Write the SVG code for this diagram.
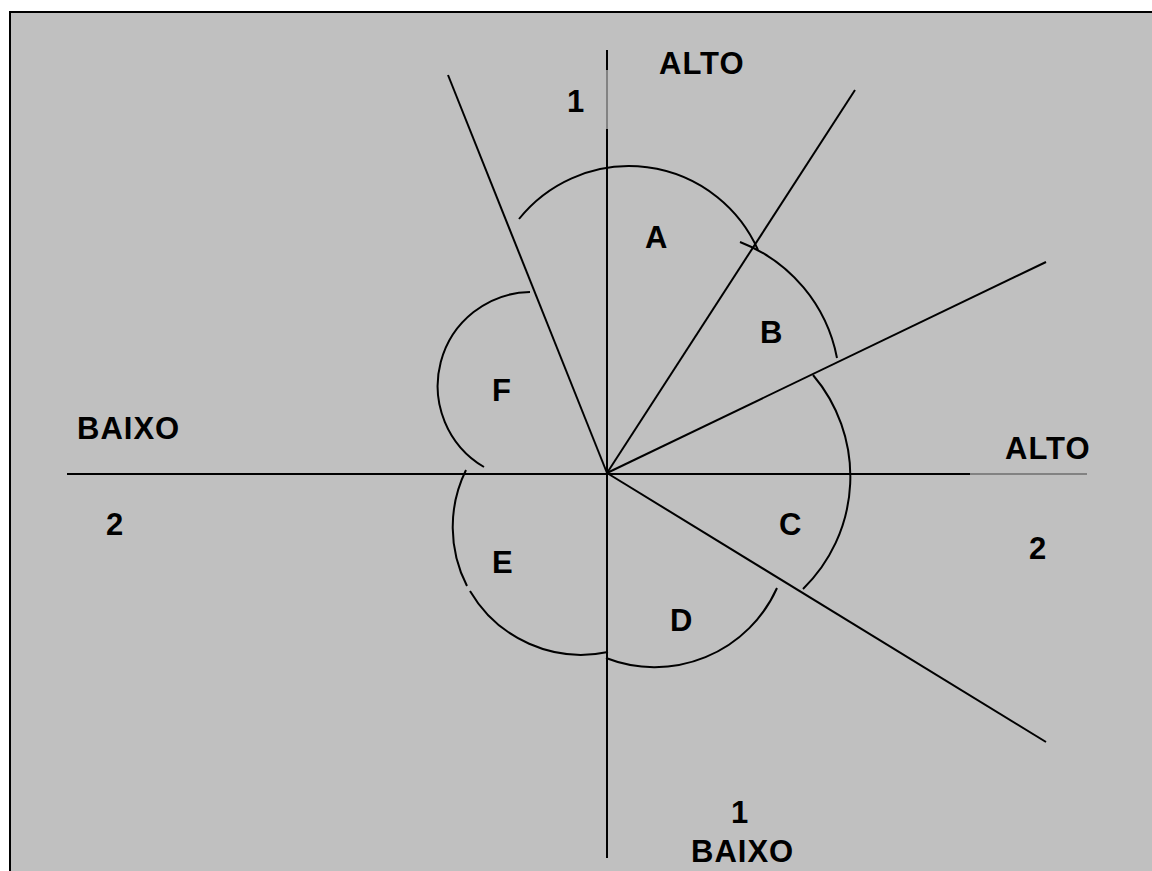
<svg xmlns="http://www.w3.org/2000/svg" width="1152" height="871" viewBox="0 0 1152 871">
  <style>
    .ln { stroke: #000; stroke-width: 2; fill: none; }
    .thin { stroke: #444; stroke-width: 1; fill: none; }
    .arc { stroke: #000; stroke-width: 2; fill: none; }
    .lbl { font-family: "Liberation Sans", Arial, sans-serif; font-weight: bold; font-size: 31px; letter-spacing: 1px; fill: #000; }
  </style>
  <rect x="0" y="0" width="1152" height="871" fill="#fff"/>
  <!-- panel -->
  <rect x="10" y="12" width="1160" height="880" fill="#c0c0c0" stroke="#000" stroke-width="2"/>

  <g id="connectors">
    <!-- vertical axis -->
    <line class="ln" x1="607" y1="50" x2="607" y2="70"/>
    <line class="thin" x1="607" y1="70" x2="607" y2="129"/>
    <line class="ln" x1="607" y1="129" x2="607" y2="858"/>
    <!-- horizontal axis -->
    <line class="ln" x1="67" y1="474" x2="970" y2="474"/>
    <line class="thin" x1="970" y1="474" x2="1087" y2="474"/>
    <!-- rays from the centre -->
    <line class="ln" x1="607" y1="473" x2="448" y2="75"/>
    <line class="ln" x1="607" y1="473" x2="855" y2="90"/>
    <line class="ln" x1="607" y1="473" x2="1046" y2="262"/>
    <line class="ln" x1="607" y1="473" x2="1046" y2="742"/>
  </g>

  <g id="sector-A">
    <path class="arc" d="M519,219 A141,141 0 0 1 758,250"/>
    <text class="lbl" x="645" y="248">A</text>
  </g>
  <g id="sector-B">
    <path class="arc" d="M740,242 A156,156 0 0 1 837,358"/>
    <text class="lbl" x="760" y="343">B</text>
  </g>
  <g id="sector-C">
    <path class="arc" d="M813,375 A157,157 0 0 1 803,589"/>
    <text class="lbl" x="779" y="535">C</text>
  </g>
  <g id="sector-D">
    <path class="arc" d="M777,588 A134,134 0 0 1 606,658"/>
    <text class="lbl" x="670" y="631">D</text>
  </g>
  <g id="sector-E">
    <path class="arc" d="M466,470 A129,129 0 0 0 467,586"/>
    <path class="arc" d="M470,591 A129,129 0 0 0 608,652"/>
    <text class="lbl" x="492" y="573">E</text>
  </g>
  <g id="sector-F">
    <path class="arc" d="M530,292 A94,94 0 0 0 484,467"/>
    <text class="lbl" x="492" y="401">F</text>
  </g>

  <g id="axis-labels">
    <text class="lbl" x="659" y="74">ALTO</text>
    <text class="lbl" x="567" y="112">1</text>
    <text class="lbl" x="77" y="439">BAIXO</text>
    <text class="lbl" x="106" y="535">2</text>
    <text class="lbl" x="1005" y="459">ALTO</text>
    <text class="lbl" x="1029" y="559">2</text>
    <text class="lbl" x="731" y="823">1</text>
    <text class="lbl" x="691" y="862">BAIXO</text>
  </g>
</svg>
